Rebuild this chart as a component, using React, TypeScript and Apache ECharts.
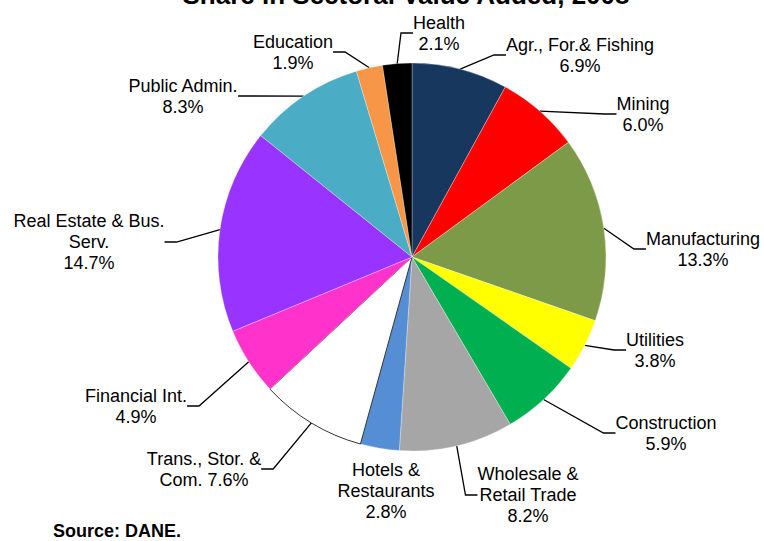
import React, { useEffect, useRef } from 'react';
import * as echarts from 'echarts';

const categories = [
  'Agr., For.& Fishing',
  'Mining',
  'Manufacturing',
  'Utilities',
  'Construction',
  'Wholesale &\nRetail Trade',
  'Hotels &\nRestaurants',
  'Trans., Stor. &\nCom.',
  'Financial Int.',
  'Real Estate & Bus.\nServ.',
  'Public Admin.',
  'Education',
  'Health',
];
const shares = [6.9, 6.0, 13.3, 3.8, 5.9, 8.2, 2.8, 7.6, 4.9, 14.7, 8.3, 1.9, 2.1];
const sliceColors = [
  '#17375E', '#FF0000', '#7D9A48', '#FFFF00', '#00B050', '#A6A6A6', '#558ED5',
  '#FFFFFF', '#FF33CC', '#9933FF', '#4BACC6', '#F79646', '#000000',
];
// label block centres (layout only)
const labelCenters: number[][] = [
  [580, 55], [643, 114], [703, 249], [655, 350], [666, 433], [528, 495], [386, 491],
  [204, 469], [136, 406], [89, 242], [183, 96], [293, 52], [439, 33],
];
const titleText = 'Share in Sectoral Value Added, 2008';
const sourceText = 'Source: DANE.';
const FONT = '"Liberation Sans", Arial, sans-serif';

export default function App() {
  const ref = useRef<HTMLDivElement>(null);
  useEffect(() => {
    if (!ref.current) return;
    const chart = echarts.init(ref.current, null, { renderer: 'svg' });
    const data = categories.map((name, i) => ({
      name,
      value: shares[i],
      itemStyle: {
        color: sliceColors[i],
        borderColor: i === 7 ? '#000' : '#fff',
        borderWidth: i === 7 ? 0.8 : 0.3,
      },
      labelLine: { show: i !== 6 },
    }));
    chart.setOption({
      animation: false,
      backgroundColor: '#fff',
      graphic: [
        {
          type: 'text',
          x: 406,
          y: -5,
          style: {
            text: titleText,
            font: `bold 26px ${FONT}`,
            fill: '#000',
            textAlign: 'center',
            textVerticalAlign: 'middle',
          },
        },
        {
          type: 'text',
          x: 53,
          y: 531,
          style: {
            text: sourceText,
            font: `bold 18px ${FONT}`,
            fill: '#000',
            textAlign: 'left',
            textVerticalAlign: 'middle',
          },
        },
      ],
      series: [
        {
          type: 'pie',
          center: [412, 257],
          radius: 194,
          startAngle: 90,
          clockwise: true,
          avoidLabelOverlap: false,
          data,
          label: {
            show: true,
            position: 'outside',
            color: '#000',
            fontFamily: FONT,
            fontSize: 18,
            lineHeight: 21,
            align: 'center',
            formatter: (p: any) => {
              const sep = p.dataIndex === 7 ? ' ' : '\n';
              return `${p.name}${sep}${Number(p.value).toFixed(1)}%`;
            },
          },
          labelLine: {
            show: true,
            length: 10,
            length2: 12,
            smooth: false,
            lineStyle: { color: '#000', width: 1.3 },
          },
          labelLayout: (params: any) => {
            const c = labelCenters[params.dataIndex];
            return { x: c[0], y: c[1], align: 'center', verticalAlign: 'middle' };
          },
          emphasis: { disabled: true },
        },
      ],
    });
    return () => chart.dispose();
  }, []);
  return (
    <div
      ref={ref}
      style={{ position: 'absolute', left: 0, top: 0, width: 764, height: 541 }}
    />
  );
}
